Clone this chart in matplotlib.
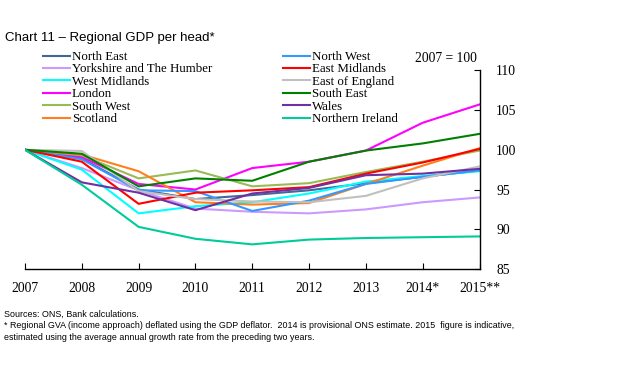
import matplotlib
matplotlib.use('Agg')
import matplotlib.pyplot as plt

# x categories
years = ['2007', '2008', '2009', '2010', '2011', '2012', '2013', '2014*', '2015**']

# regional GDP per head, 2007 = 100
north_east = [100, 98.9, 95.0, 93.8, 94.3, 94.9, 95.8, 96.6, 97.4]
yorkshire = [100, 97.7, 94.9, 92.6, 92.2, 92.0, 92.5, 93.4, 94.0]
west_midlands = [100, 97.5, 92.0, 92.9, 93.4, 94.5, 96.0, 96.7, 97.3]
london = [100, 99.1, 95.7, 95.0, 97.7, 98.5, 99.9, 103.4, 105.7]
south_west = [100, 99.3, 96.4, 97.4, 95.4, 95.8, 97.2, 98.5, 99.9]
scotland = [100, 99.4, 97.3, 93.4, 93.1, 93.3, 95.7, 98.0, 100.2]
north_west = [100, 98.8, 94.9, 94.8, 92.3, 93.6, 95.7, 96.6, 97.4]
east_midlands = [100, 98.5, 93.2, 94.6, 94.9, 95.3, 97.0, 98.4, 100.1]
east_england = [100, 99.85, 94.8, 93.8, 93.5, 93.4, 94.2, 96.4, 97.9]
south_east = [100, 99.5, 95.4, 96.4, 96.1, 98.5, 99.9, 100.8, 102.0]
wales = [100, 95.9, 94.6, 92.4, 94.5, 95.2, 96.8, 97.0, 97.6]
northern_ireland = [100, 95.6, 90.3, 88.8, 88.1, 88.7, 88.9, 89.0, 89.1]

names = ['North East', 'Yorkshire and The Humber', 'West Midlands', 'London',
         'South West', 'Scotland', 'North West', 'East Midlands',
         'East of England', 'South East', 'Wales', 'Northern Ireland']
series = [north_east, yorkshire, west_midlands, london, south_west, scotland,
          north_west, east_midlands, east_england, south_east, wales,
          northern_ireland]
colors = ['#44679a', '#cc99ff', '#00ffff', '#ff00ff', '#99bb55', '#ff7f1e',
          '#3399ff', '#ff0000', '#c0c0c0', '#008000', '#7030a0', '#00cc99']

serif = 'Liberation Serif'
sans = 'Liberation Sans'

fig = plt.figure(figsize=(6.3, 3.68), dpi=100)
ax = fig.add_axes([25 / 630, 1 - 269 / 368, (479.5 - 25) / 630, (269 - 70.3) / 368])

x = list(range(len(years)))
handles = []
for vals, name, c in zip(series, names, colors):
    h, = ax.plot(x, vals, color=c, lw=1.5, label=name)
    handles.append(h)

ax.set_xlim(0, len(years) - 1)
ax.set_ylim(85, 110)
ax.set_yticks([85, 90, 95, 100, 105, 110])
ax.set_xticks(x)
ax.set_xticklabels(years, fontfamily=serif, fontsize=9.8)
ax.yaxis.tick_right()
for lab in ax.get_yticklabels():
    lab.set_fontfamily(serif)
    lab.set_fontsize(9.8)
ax.tick_params(axis='x', direction='in', length=4, pad=9, width=0.8)
ax.tick_params(axis='y', direction='in', length=4, pad=12, width=0.8)
for s in ['top', 'left']:
    ax.spines[s].set_visible(False)
for s in ['bottom', 'right']:
    ax.spines[s].set_linewidth(1.0)

leg = fig.legend(handles=handles, ncol=2, loc='upper left',
                 bbox_to_anchor=(43 / 630, 1 - 51 / 368), frameon=False,
                 prop={'family': serif, 'size': 9.3}, handlelength=2.1,
                 handletextpad=0.15, labelspacing=0.03, columnspacing=5.5,
                 borderaxespad=0, borderpad=0)

fig.text(5 / 630, 1 - 38 / 368, 'Chart 11 \u2013 Regional GDP per head*',
         family=sans, fontsize=9.5, va='center', ha='left')
fig.text(445.5 / 630, 1 - 59 / 368, '2007 = 100', family=serif, fontsize=9.8,
         va='center', ha='center')

foot = ['Sources: ONS, Bank calculations.',
        '* Regional GVA (income approach) deflated using the GDP deflator.  2014 is provisional ONS estimate. 2015  figure is indicative,',
        'estimated using the average annual growth rate from the preceding two years.']
for i, t in enumerate(foot):
    fig.text(4 / 630, 1 - (314 + 11.8 * i) / 368, t, family=sans,
             fontsize=6.4, va='center', ha='left')

fig.savefig('out.png', dpi=100)
